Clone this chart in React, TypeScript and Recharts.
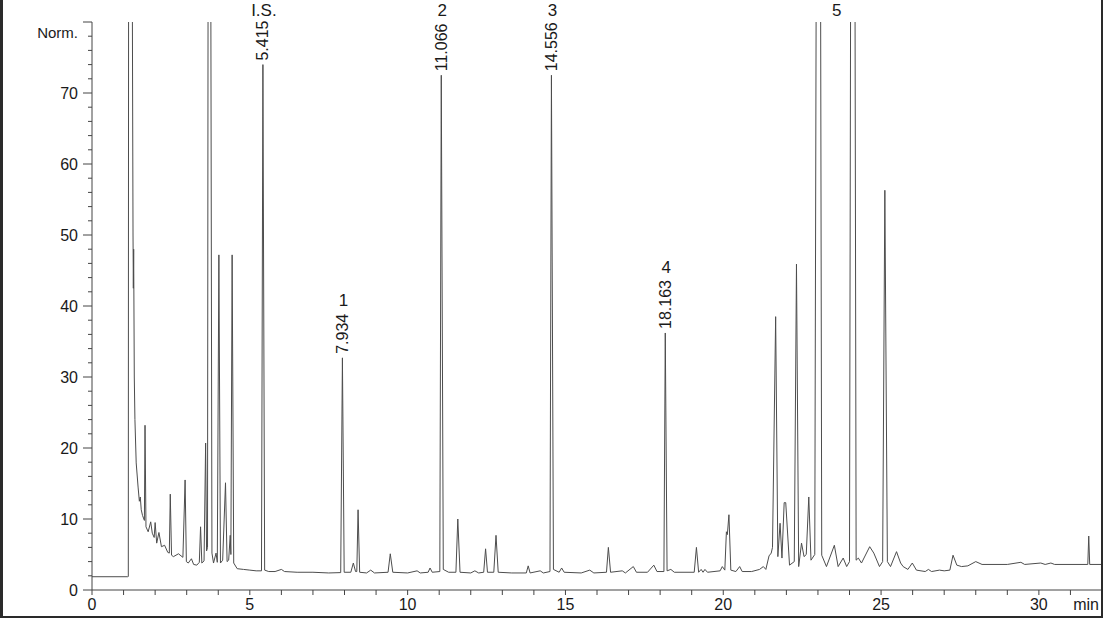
import React from "react";
import { LineChart, Line, XAxis, YAxis, ReferenceDot } from "recharts";

// retention time (min) / signal (Norm.) pairs, split by region
const solventFront: [number, number][] = [
  [0, 1.87], [1.13, 1.87], [1.15, 1.9], [1.16, 95], [1.27, 95], [1.3, 50],
  [1.31, 42.5], [1.32, 48], [1.34, 30], [1.36, 24], [1.4, 17.9], [1.46, 14.5],
  [1.5, 12.5], [1.53, 13.1], [1.56, 11.3], [1.6, 10.5], [1.66, 9.8], [1.68, 23.2],
  [1.71, 8.9], [1.78, 8.2], [1.86, 9.6], [1.91, 8.0], [1.97, 7.4], [2.0, 9.5],
  [2.05, 6.6], [2.12, 8.1], [2.2, 6.1], [2.3, 6.3], [2.4, 5.3], [2.45, 5.2],
  [2.48, 13.5], [2.52, 4.9], [2.58, 4.7], [2.74, 5.1], [2.88, 4.6], [2.95, 15.5],
  [2.99, 4.0], [3.05, 3.8], [3.15, 4.4], [3.22, 3.6], [3.32, 3.5], [3.4, 3.9],
  [3.44, 8.9], [3.48, 3.8], [3.55, 4.1], [3.6, 20.7], [3.63, 5.5], [3.66, 6],
  [3.68, 95], [3.76, 95], [3.8, 5.2], [3.85, 3.8], [3.93, 5.2], [3.97, 3.9],
  [4.02, 47.2], [4.07, 3.8], [4.14, 4.2], [4.23, 15.1], [4.28, 4.0], [4.33, 4.2],
  [4.38, 7.7], [4.4, 5.0], [4.44, 47.2], [4.49, 3.8], [4.6, 3.0], [4.8, 2.9],
  [5.0, 2.8], [5.2, 2.7], [5.37, 2.7],
];

const midRegion: [number, number][] = [
  [5.415, 74], [5.47, 2.8], [5.6, 2.6], [5.8, 2.6], [6.0, 2.9], [6.1, 2.6],
  [6.5, 2.5], [7.0, 2.5], [7.5, 2.4], [7.88, 2.45], [7.934, 32.7], [7.99, 2.5],
  [8.2, 2.5], [8.28, 3.8], [8.35, 2.6], [8.39, 2.6], [8.43, 11.3], [8.48, 2.5],
  [8.7, 2.4], [8.83, 2.8], [8.95, 2.4], [9.38, 2.5], [9.45, 5.1], [9.53, 2.5],
  [10.0, 2.4], [10.3, 2.7], [10.4, 2.4], [10.65, 2.5], [10.71, 3.1], [10.78, 2.5],
  [11.02, 2.6], [11.066, 72.5], [11.13, 2.9], [11.3, 2.5], [11.53, 2.5],
  [11.59, 10.0], [11.66, 2.5], [12.0, 2.4], [12.13, 2.7], [12.25, 2.4],
  [12.41, 2.5], [12.47, 5.8], [12.53, 2.5], [12.73, 2.5], [12.8, 7.7],
  [12.87, 2.5], [13.3, 2.4], [13.76, 2.4], [13.82, 3.4], [13.88, 2.4],
  [14.2, 2.7], [14.3, 2.4], [14.51, 2.6], [14.556, 72.5], [14.62, 2.9],
  [14.8, 2.5], [14.88, 3.1], [14.96, 2.5], [15.5, 2.4], [15.77, 2.8], [15.9, 2.4],
  [16.3, 2.5], [16.36, 6.0], [16.43, 2.5], [16.8, 2.7], [16.9, 2.4], [17.15, 3.3],
  [17.25, 2.5], [17.6, 2.5], [17.8, 3.5], [17.9, 2.6], [18.12, 2.6],
  [18.163, 36.2], [18.22, 2.7], [18.34, 2.9], [18.45, 2.5],
];

const lateCluster: [number, number][] = [
  [19.08, 2.5], [19.15, 6.0], [19.22, 2.5], [19.3, 2.9], [19.36, 2.5],
  [19.42, 2.9], [19.5, 2.5], [19.9, 2.7], [19.97, 3.3], [20.05, 2.8],
  [20.1, 8.2], [20.13, 7.8], [20.18, 10.6], [20.24, 2.8], [20.4, 2.6],
  [20.52, 3.3], [20.6, 2.6], [20.9, 2.6], [21.15, 2.9], [21.27, 3.3],
  [21.35, 2.9], [21.45, 4.8], [21.52, 5.2], [21.56, 6], [21.66, 38.5],
  [21.73, 4.7], [21.8, 9.4], [21.86, 4.5], [21.93, 12.3], [21.98, 12.3],
  [22.1, 3.5], [22.25, 4], [22.32, 45.9], [22.39, 3.3], [22.48, 6.6],
  [22.56, 4.7], [22.63, 5], [22.71, 13.1], [22.78, 4.2], [22.9, 5],
  [22.95, 95], [23.08, 95], [23.12, 4.9], [23.27, 3.3], [23.52, 6.3],
  [23.64, 3.3], [23.8, 4.5], [23.91, 3.3], [24.0, 4], [24.04, 95],
  [24.17, 95], [24.21, 4.2], [24.28, 4.5], [24.38, 3.8], [24.64, 6.1],
  [24.77, 5.2], [24.95, 3.3], [25.05, 4], [25.12, 56.3], [25.2, 4],
  [25.3, 3.3], [25.49, 5.4], [25.62, 3.8], [25.7, 3.3], [25.85, 2.9],
  [25.99, 3.8], [26.12, 2.8],
];

const tailRegion: [number, number][] = [
  [26.4, 2.6], [26.5, 2.9], [26.6, 2.6], [26.85, 2.8], [27.0, 2.7],
  [27.18, 2.8], [27.28, 4.9], [27.4, 3.5], [27.55, 3.3], [27.75, 3.4],
  [28.0, 4.0], [28.2, 3.6], [29.0, 3.6], [29.43, 3.9], [29.55, 3.6],
  [30.06, 3.8], [30.2, 3.6], [30.38, 3.8], [30.5, 3.6], [31.55, 3.6],
  [31.58, 7.6], [31.61, 3.6], [32, 3.6],
];

// annotated peaks: label, retention time, apex height, printed time
const peakNames = ["I.S.", "1", "2", "3", "4", "5"];
const peakTimes = [5.415, 7.934, 11.066, 14.556, 18.163, 23.56];
const peakApex = [74, 32.7, 72.5, 72.5, 36.2, 80];
const peakRt = ["5.415", "7.934", "11.066", "14.556", "18.163", ""];

const minuteTicks = Array.from({ length: 33 }, (_, i) => i);
const normTicks = Array.from({ length: 41 }, (_, i) => i * 2);

const trace = [...solventFront, ...midRegion, ...lateCluster, ...tailRegion].map(
  ([t, v]) => ({ t, v })
);

const FONT = "'Liberation Sans', Arial, sans-serif";
const INK = "#1a1a1a";
const AXIS = "#444";
const PLOT_LEFT = 92;
const PLOT_BOTTOM = 590;

const MinuteTick = ({ x, payload }: any) => {
  const v = payload.value;
  if (v === 32) {
    return (
      <text x={1099} y={PLOT_BOTTOM + 20} textAnchor="end" fontSize={16} fontFamily={FONT} fill={INK}>
        min
      </text>
    );
  }
  return (
    <g>
      <line x1={x} x2={x} y1={PLOT_BOTTOM} y2={PLOT_BOTTOM + 5} stroke={AXIS} />
      {v % 5 === 0 && (
        <text x={x} y={PLOT_BOTTOM + 20} textAnchor="middle" fontSize={16} fontFamily={FONT} fill={INK}>
          {v}
        </text>
      )}
    </g>
  );
};

const NormTick = ({ y, payload }: any) => {
  const v = payload.value;
  const major = v % 10 === 0;
  return (
    <g>
      <line x1={PLOT_LEFT - (major ? 9 : 4)} x2={PLOT_LEFT} y1={y} y2={y} stroke={AXIS} />
      {major && v < 80 && (
        <text x={PLOT_LEFT - 14} y={y + 5.5} textAnchor="end" fontSize={16} fontFamily={FONT} fill={INK}>
          {v}
        </text>
      )}
      {v === 80 && (
        <text x={PLOT_LEFT - 14} y={y + 15.5} textAnchor="end" fontSize={15} fontFamily={FONT} fill={INK}>
          Norm.
        </text>
      )}
    </g>
  );
};

const PeakTag = ({ cx, cy, name, rt }: any) => {
  const base = cy - 4;
  const len = rt ? (rt.length - 1) * 8.9 + 4.45 : 0;
  const nameY = rt ? Math.max(base - len - 13, 10) : Math.max(cy - 14, 10);
  return (
    <g>
      {rt && (
        <text
          x={cx}
          y={base}
          transform={`rotate(-90 ${cx} ${base})`}
          textAnchor="start"
          dominantBaseline="central"
          fontSize={16}
          fontFamily={FONT}
          fill={INK}
        >
          {rt}
        </text>
      )}
      <text x={cx + 1} y={nameY} textAnchor="middle" dominantBaseline="central" fontSize={17} fontFamily={FONT} fill={INK}>
        {name}
      </text>
    </g>
  );
};

export default function App() {
  return (
    <div
      style={{
        position: "absolute",
        left: 0,
        top: 0,
        width: 1103,
        height: 618,
        background: "#fff",
        overflow: "hidden",
      }}
    >
      <LineChart width={1103} height={618} data={trace} margin={{ top: 22, right: 1, bottom: 0, left: 0 }}>
        <XAxis
          dataKey="t"
          type="number"
          domain={[0, 32]}
          ticks={minuteTicks}
          interval={0}
          height={28}
          tickLine={false}
          axisLine={{ stroke: AXIS }}
          tick={<MinuteTick />}
        />
        <YAxis
          type="number"
          domain={[0, 80]}
          allowDataOverflow
          ticks={normTicks}
          interval={0}
          width={92}
          tickLine={false}
          axisLine={{ stroke: AXIS }}
          tick={<NormTick />}
        />
        <Line
          type="linear"
          dataKey="v"
          stroke="#4d4d4d"
          strokeWidth={1}
          dot={false}
          isAnimationActive={false}
        />
        {peakNames.map((name, i) => (
          <ReferenceDot
            key={name}
            x={peakTimes[i]}
            y={peakApex[i]}
            r={0}
            ifOverflow="visible"
            shape={(p: any) => <PeakTag cx={p.cx} cy={p.cy} name={name} rt={peakRt[i]} />}
          />
        ))}
      </LineChart>
      <div
        style={{
          position: "absolute",
          inset: 0,
          borderLeft: "3px solid #2a2a2a",
          borderRight: "2px solid #2a2a2a",
          borderBottom: "2px solid #2a2a2a",
          pointerEvents: "none",
        }}
      />
    </div>
  );
}
